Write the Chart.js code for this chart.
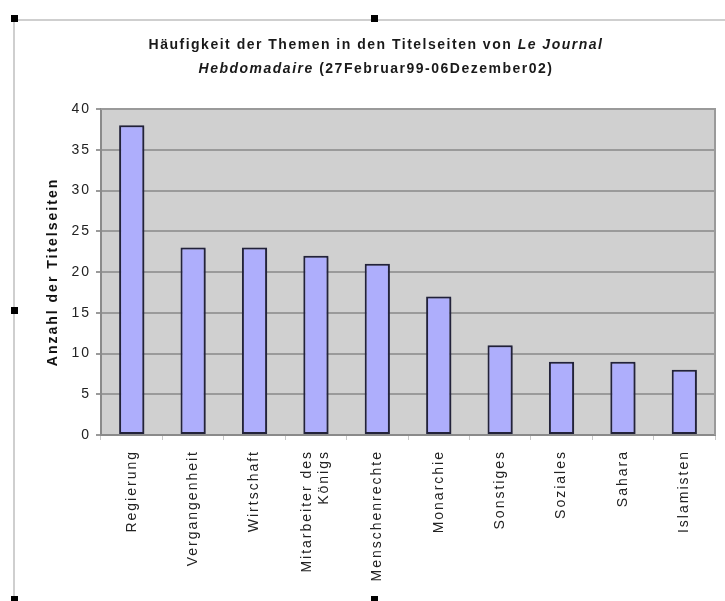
<!DOCTYPE html>
<html>
<head>
<meta charset="utf-8">
<script src="https://cdn.jsdelivr.net/npm/chart.js@4"></script>
<style>
  html, body { margin: 0; padding: 0; background: #ffffff; }
  #wrap { width: 725px; height: 601px; position: relative; }
</style>
</head>
<body>
<div id="wrap"><canvas id="c" width="725" height="601"></canvas></div>
<script>
// Themen der Titelseiten und ihre Häufigkeit
const categories = [
  'Regierung', 'Vergangenheit', 'Wirtschaft', ['Mitarbeiter des', 'Königs'],
  'Menschenrechte', 'Monarchie', 'Sonstiges', 'Soziales', 'Sahara', 'Islamisten'
];
const counts = [38, 23, 23, 22, 21, 17, 11, 9, 9, 8];
const yTicks = [0, 5, 10, 15, 20, 25, 30, 35, 40];
const yAxisTitle = 'Anzahl der Titelseiten';
const titleLine1 = [['Häufigkeit der Themen in den Titelseiten von ', false], ['Le Journal', true]];
const titleLine2 = [['Hebdomadaire', true], [' (27Februar99-06Dezember02)', false]];

const FONT = '"Liberation Sans", Arial, sans-serif';
const AXIS_SPACING = '2px';

// breite Laufweite für alle Achsentexte
const spacing = {
  id: 'spacing',
  beforeInit(chart) { chart.ctx.letterSpacing = AXIS_SPACING; },
  beforeUpdate(chart) { chart.ctx.letterSpacing = AXIS_SPACING; },
  beforeLayout(chart) { chart.ctx.letterSpacing = AXIS_SPACING; },
  beforeDraw(chart) {
    chart.ctx.letterSpacing = AXIS_SPACING;
    // mehrzeilige Kategorienamen mittig unter die Säule setzen
    const x = chart.scales.x;
    x.getLabelItems().forEach(item => {
      if (Array.isArray(item.label) && !item._centered) {
        const lh = 14 * 1.2;
        item.options.translation[0] -= (item.label.length - 1) * lh / 2;
        item._centered = true;
      }
    });
  }
};

// Rahmen, Markierungen und grauer Zeichenbereich
const backdrop = {
  id: 'backdrop',
  beforeDraw(chart) {
    const ctx = chart.ctx;
    const a = chart.chartArea;
    ctx.save();
    ctx.fillStyle = '#ffffff';
    ctx.fillRect(0, 0, chart.width, chart.height);
    // Rahmen des Objekts
    ctx.strokeStyle = '#cfcfcf';
    ctx.lineWidth = 2;
    ctx.beginPath();
    ctx.moveTo(725, 20); ctx.lineTo(14, 20); ctx.lineTo(14, 601);
    ctx.stroke();
    // Anfasser
    ctx.fillStyle = '#000000';
    [[14, 18], [374, 18], [14, 310], [14, 599], [374, 599]].forEach(([x, y]) => {
      ctx.fillRect(x - 3, y - 3, 7, 7);
    });
    // Zeichenbereich
    ctx.fillStyle = '#d0d0d0';
    ctx.fillRect(a.left, a.top, a.right - a.left, a.bottom - a.top);
    ctx.restore();
  },
  afterDraw(chart) {
    const ctx = chart.ctx;
    const a = chart.chartArea;
    ctx.save();
    // obere und rechte Kante des Zeichenbereichs
    ctx.strokeStyle = '#9a9a9a';
    ctx.lineWidth = 2;
    ctx.beginPath();
    ctx.moveTo(a.left, a.top); ctx.lineTo(a.right, a.top); ctx.lineTo(a.right, a.bottom);
    ctx.stroke();
    // Titel mit kursivem Zeitungsnamen
    ctx.letterSpacing = '1.5px';
    ctx.fillStyle = '#1a1a1a';
    ctx.textBaseline = 'middle';
    const cx = 376;
    [[titleLine1, 45], [titleLine2, 69]].forEach(([parts, y]) => {
      let total = 0;
      parts.forEach(([t, it]) => {
        ctx.font = (it ? 'italic ' : '') + 'bold 14px ' + FONT;
        total += ctx.measureText(t).width;
      });
      let x = cx - total / 2;
      parts.forEach(([t, it]) => {
        ctx.font = (it ? 'italic ' : '') + 'bold 14px ' + FONT;
        ctx.textAlign = 'left';
        ctx.fillText(t, x, y);
        x += ctx.measureText(t).width;
      });
    });
    ctx.restore();
  }
};

// Schatten hinter den Säulen
const barShadow = {
  id: 'barShadow',
  beforeDatasetsDraw(chart) {
    const ctx = chart.ctx;
    ctx.save();
    ctx.shadowColor = 'rgba(40,40,60,0.45)';
    ctx.shadowBlur = 2;
    ctx.shadowOffsetX = 1.5;
    ctx.shadowOffsetY = 1;
  },
  afterDatasetsDraw(chart) {
    chart.ctx.restore();
  }
};

new Chart(document.getElementById('c'), {
  type: 'bar',
  data: {
    labels: categories,
    datasets: [{
      data: counts,
      backgroundColor: '#aeaefc',
      borderColor: '#22223a',
      borderWidth: 2,
      borderSkipped: false,
      categoryPercentage: 1,
      barPercentage: 0.41
    }]
  },
  options: {
    responsive: false,
    animation: false,
    devicePixelRatio: 1,
    layout: { padding: { top: 109, right: 10, left: 0, bottom: 0 } },
    plugins: {
      legend: { display: false },
      tooltip: { enabled: false },
      title: { display: false }
    },
    scales: {
      x: {
        offset: true,
        afterFit(scale) { scale.height = 166; },
        grid: {
          offset: true,
          drawOnChartArea: false,
          drawTicks: true,
          tickLength: 5,
          color: '#c8c8c8'
        },
        border: { display: true, color: '#8a8a8a', width: 2 },
        ticks: {
          minRotation: 90,
          maxRotation: 90,
          autoSkip: false,
          padding: 10,
          color: '#222222',
          font: { family: FONT, size: 14, lineHeight: 1.2 }
        }
      },
      y: {
        min: 0,
        max: 40,
        afterFit(scale) { scale.width = 101; },
        afterBuildTicks(scale) { scale.ticks = yTicks.map(v => ({ value: v })); },
        grid: {
          color: '#9a9a9a',
          lineWidth: 2,
          tickLength: 5,
          drawTicks: true
        },
        border: { display: true, color: '#8a8a8a', width: 2 },
        ticks: {
          padding: 5,
          color: '#222222',
          font: { family: FONT, size: 14 }
        },
        title: {
          display: true,
          text: yAxisTitle,
          color: '#111111',
          font: { family: FONT, size: 14, weight: 'bold' },
          padding: { top: 45, bottom: 0 }
        }
      }
    }
  },
  plugins: [spacing, backdrop, barShadow]
});
</script>
</body>
</html>
